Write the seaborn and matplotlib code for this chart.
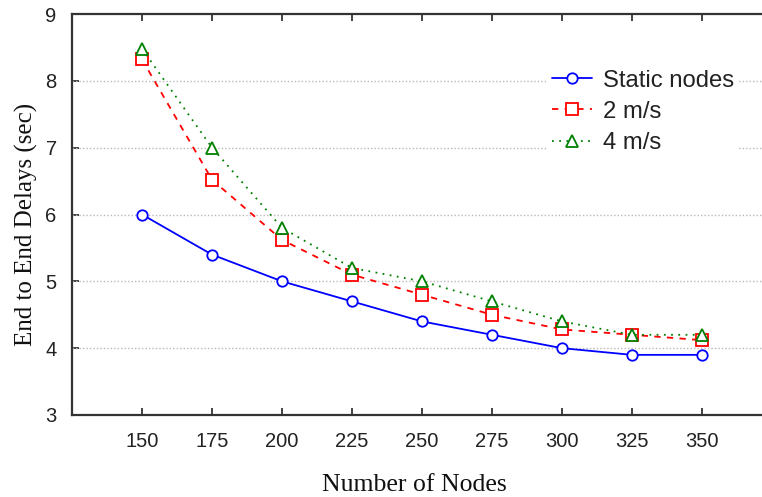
import matplotlib
matplotlib.use("Agg")
import matplotlib.pyplot as plt
import seaborn as sns
import pandas as pd

# Network size (number of nodes)
nodes = [150, 175, 200, 225, 250, 275, 300, 325, 350]

# End-to-end delay (sec) per mobility scenario
static_nodes = [6.0, 5.4, 5.0, 4.7, 4.4, 4.2, 4.0, 3.9, 3.9]
speed_2 = [8.32, 6.52, 5.62, 5.1, 4.8, 4.5, 4.28, 4.2, 4.12]
speed_4 = [8.48, 7.0, 5.8, 5.2, 5.0, 4.7, 4.4, 4.2, 4.2]

series_labels = ["Static nodes", "2 m/s", "4 m/s"]
y_ticks = [3, 4, 5, 6, 7, 8, 9]

sns.set_theme(style="white")
plt.rcParams["font.family"] = ["Liberation Sans", "DejaVu Sans"]

df = pd.DataFrame({
    "nodes": nodes * 3,
    "delay": static_nodes + speed_2 + speed_4,
    "scenario": [series_labels[0]] * len(nodes)
                + [series_labels[1]] * len(nodes)
                + [series_labels[2]] * len(nodes),
})

fig = plt.figure(figsize=(7.62, 4.97), dpi=100)
ax = fig.add_axes([72 / 762, 82 / 497, 700 / 762, 401 / 497])

styles = {
    "Static nodes": dict(color="#0000ff", marker="o", ms=7.5, ls="-"),
    "2 m/s": dict(color="#ff0000", marker="s", ms=8.5, ls=(0, (3.5, 3.5))),
    "4 m/s": dict(color="#008000", marker="^", ms=8.5, ls=(0, (1, 3))),
}

for name in series_labels:
    st = styles[name]
    sub = df[df["scenario"] == name]
    sns.lineplot(
        data=sub, x="nodes", y="delay", ax=ax, label=name,
        color=st["color"], marker=st["marker"], markersize=st["ms"],
        linestyle=st["ls"], linewidth=1.3,
        markerfacecolor="white", markeredgecolor=st["color"],
        markeredgewidth=1.3, zorder=3,
    )

ax.set_xlim(125, 375)
ax.set_ylim(3, 9)
ax.set_xticks(nodes)
ax.set_yticks(y_ticks)

# horizontal dotted grid only
for yv in y_ticks[1:-1]:
    ax.axhline(yv, color="#b8b8b8", lw=1.0, ls=(0, (1, 1.5)), zorder=1)

for side in ["left", "bottom", "top"]:
    ax.spines[side].set_visible(True)
    ax.spines[side].set_color("#333333")
    ax.spines[side].set_linewidth(1.6)
ax.spines["right"].set_visible(False)

ax.tick_params(axis="both", direction="in", length=5, width=1.2,
               color="#222222", labelsize=14.5, labelcolor="#222222")
ax.tick_params(axis="x", top=True, bottom=True, pad=12)
ax.tick_params(axis="y", left=True, pad=11)

serif = ["Liberation Serif", "DejaVu Serif"]
ax.set_xlabel("Number of Nodes", fontsize=18.5, family=serif, color="#111111")
ax.set_ylabel("End to End Delays (sec)", fontsize=18, family=serif, color="#111111")
ax.xaxis.set_label_coords((414 - 72) / 700, -0.148)
ax.yaxis.set_label_coords(-0.049, 0.474)

leg = ax.legend(
    loc="upper left", bbox_to_anchor=((547 - 72) / 700, (415 - 65) / 401),
    fontsize=17.2, frameon=True, fancybox=False, framealpha=1,
    facecolor="white", edgecolor="none", handlelength=1.7,
    handletextpad=0.45, labelspacing=0.38, borderpad=0.2, borderaxespad=0,
)
for t in leg.get_texts():
    t.set_color("#222222")

fig.savefig("out.png", dpi=100)
